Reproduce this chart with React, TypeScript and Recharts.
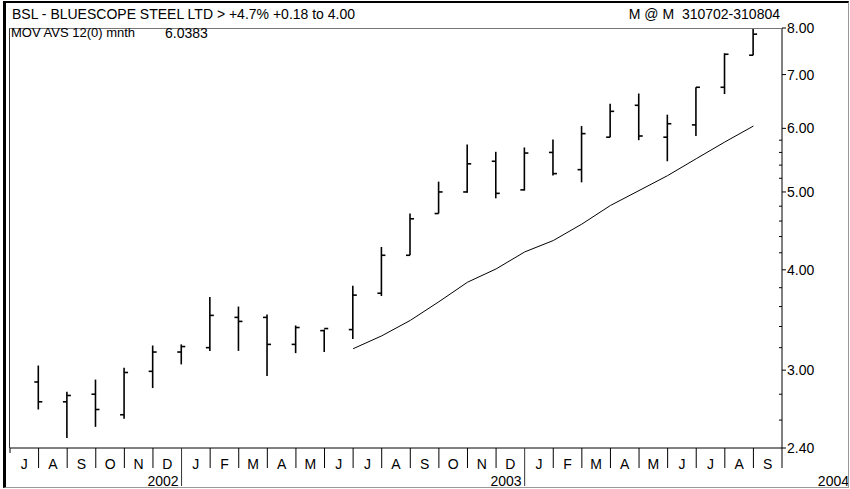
import { Bar, ComposedChart, Line, XAxis, YAxis } from "recharts";

// monthly bars, Jul 2002 .. Aug 2004
const OPEN = [2.9, 2.74, 2.8, 2.64, 2.99, 3.16, 3.2, 3.49, 3.49, 3.23, 3.36, 3.37, 3.74, 4.17, 4.7, 5.0, 5.46, 5.03, 5.6, 5.33, 5.85, 6.41, 5.85, 6.06, 6.75, 7.4];
const HIGH = [3.04, 2.82, 2.92, 3.02, 3.22, 3.23, 3.7, 3.6, 3.52, 3.41, 3.37, 3.82, 4.27, 4.7, 5.15, 5.73, 5.61, 5.68, 5.81, 6.04, 6.44, 6.63, 6.24, 6.75, 7.44, 7.99];
const LOW = [2.68, 2.47, 2.55, 2.61, 2.85, 3.05, 3.17, 3.17, 2.95, 3.15, 3.16, 3.28, 3.71, 4.17, 4.7, 4.99, 4.91, 5.02, 5.24, 5.14, 5.85, 5.8, 5.46, 5.87, 6.62, 7.4];
const CLOSE = [2.74, 2.79, 2.68, 2.98, 3.16, 3.21, 3.51, 3.45, 3.23, 3.39, 3.38, 3.72, 4.17, 4.63, 5.0, 5.42, 4.98, 5.59, 5.27, 5.91, 6.3, 5.87, 6.08, 6.75, 7.42, 7.86];
const MA: (number | null)[] = [null, null, null, null, null, null, null, null, null, null, null, 3.19, 3.31, 3.46, 3.65, 3.86, 4.01, 4.21, 4.35, 4.56, 4.81, 5.02, 5.24, 5.5, 5.77, 6.04];

const MONTHS = ["J", "A", "S", "O", "N", "D", "J", "F", "M", "A", "M", "J", "J", "A", "S", "O", "N", "D", "J", "F", "M", "A", "M", "J", "J", "A", "S"];
const YEARS: Record<number, string> = { 6: "2002", 18: "2003", 27: "2004" };
const Y_LABELS = [2.4, 3, 4, 5, 6, 7, 8];
const Y_MINOR = [2.6, 2.8, 3.2, 3.4, 3.6, 3.8, 4.2, 4.4, 4.6, 4.8, 5.2, 5.4, 5.6, 5.8];

const FONT = "'Liberation Sans', Arial, sans-serif";
const FS = 14;

const data = OPEN.map((open, i) => ({
  x: i + 1,
  open,
  high: HIGH[i],
  low: LOW[i],
  close: CLOSE[i],
  range: [LOW[i], HIGH[i]],
  ma: MA[i],
}));

const xTicks = Array.from({ length: MONTHS.length * 2 + 1 }, (_, i) => i / 2);

function OhlcShape(props: any) {
  const { x, y, width, height, payload } = props;
  const cx = x + width / 2;
  const top = Math.min(y, y + height);
  const bottom = Math.max(y, y + height);
  const lh = Math.log(payload.high);
  const ll = Math.log(payload.low);
  const py = (v: number) => bottom - ((Math.log(v) - ll) / (lh - ll)) * (bottom - top);
  return (
    <g stroke="#000" strokeWidth={1.6}>
      <line x1={cx} x2={cx} y1={top} y2={bottom} />
      <line x1={cx - 4} x2={cx} y1={py(payload.open)} y2={py(payload.open)} />
      <line x1={cx} x2={cx + 4} y1={py(payload.close)} y2={py(payload.close)} />
    </g>
  );
}

function XTick({ x, y, payload }: any) {
  const v = payload.value;
  if (Number.isInteger(v)) {
    const year = YEARS[v];
    const len = v === 0 ? 5 : year && v !== 27 ? 38 : 20;
    return (
      <g>
        <line x1={x} x2={x} y1={y} y2={y + len} stroke={year && v !== 27 ? "#333" : "#000"} />
        {year && (
          <text x={v === 27 ? x + 67 : x - 3} y={y + 38} textAnchor="end" fontSize={FS} fontFamily={FONT} fill="#000">
            {year}
          </text>
        )}
      </g>
    );
  }
  return (
    <text x={x} y={y + 21} textAnchor="middle" fontSize={FS} fontFamily={FONT} fill="#000">
      {MONTHS[Math.floor(v)]}
    </text>
  );
}

function YTick({ x, y, payload }: any) {
  const v = payload.value;
  if (Y_LABELS.includes(v)) {
    return (
      <g>
        <line x1={x} x2={x + 4} y1={y} y2={y} stroke="#000" />
        <text x={x + 5} y={y + 5} fontSize={FS} fontFamily={FONT} fill="#000">
          {v.toFixed(2)}
        </text>
      </g>
    );
  }
  return <line x1={x - 3} x2={x} y1={y} y2={y} stroke="#000" />;
}

export default function App() {
  return (
    <div style={{ position: "fixed", left: 0, top: 0, width: 850, height: 489, background: "#fff", fontFamily: FONT, color: "#000" }}>
      <ComposedChart width={850} height={489} data={data} margin={{ top: 28, right: 0, bottom: 0, left: 10 }}>
        <XAxis
          dataKey="x"
          type="number"
          domain={[0, 27]}
          ticks={xTicks}
          interval={0}
          height={41}
          tickSize={0}
          tickMargin={0}
          tickLine={false}
          axisLine={{ stroke: "#000" }}
          tick={<XTick />}
        />
        <YAxis
          orientation="right"
          scale="log"
          domain={[2.4, 8]}
          ticks={[...Y_LABELS, ...Y_MINOR].sort((a, b) => a - b)}
          interval={0}
          width={68}
          tickSize={0}
          tickMargin={0}
          tickLine={false}
          axisLine={{ stroke: "#000" }}
          tick={<YTick />}
          allowDataOverflow
        />
        <Bar dataKey="range" barSize={6} shape={<OhlcShape />} isAnimationActive={false} />
        <Line dataKey="ma" type="linear" stroke="#000" strokeWidth={1} dot={false} activeDot={false} connectNulls={false} isAnimationActive={false} />
      </ComposedChart>

      <div style={{ position: "absolute", left: 3, top: 1, width: 846, height: 487, boxSizing: "border-box", borderTop: "2px solid #000", borderLeft: "3px solid #000", borderRight: "1px solid #999", borderBottom: "1px solid #999", pointerEvents: "none" }} />
      <div style={{ position: "absolute", left: 9, top: 28, width: 773, height: 420, boxSizing: "border-box", borderTop: "1px solid #777", borderLeft: "1px solid #333", pointerEvents: "none" }} />

      <div style={{ position: "absolute", left: 12, top: 6, fontSize: FS, lineHeight: "16px", whiteSpace: "pre" }}>BSL - BLUESCOPE STEEL LTD &gt; +4.7% +0.18 to 4.00</div>
      <div style={{ position: "absolute", right: 70, top: 6, fontSize: FS, lineHeight: "16px", whiteSpace: "pre" }}>M @ M  310702-310804</div>
      <div style={{ position: "absolute", left: 11, top: 25, fontSize: 13, lineHeight: "16px", whiteSpace: "pre" }}>MOV AVS 12(0) mnth</div>
      <div style={{ position: "absolute", left: 165, top: 25, fontSize: FS, lineHeight: "16px", whiteSpace: "pre" }}>6.0383</div>
    </div>
  );
}
